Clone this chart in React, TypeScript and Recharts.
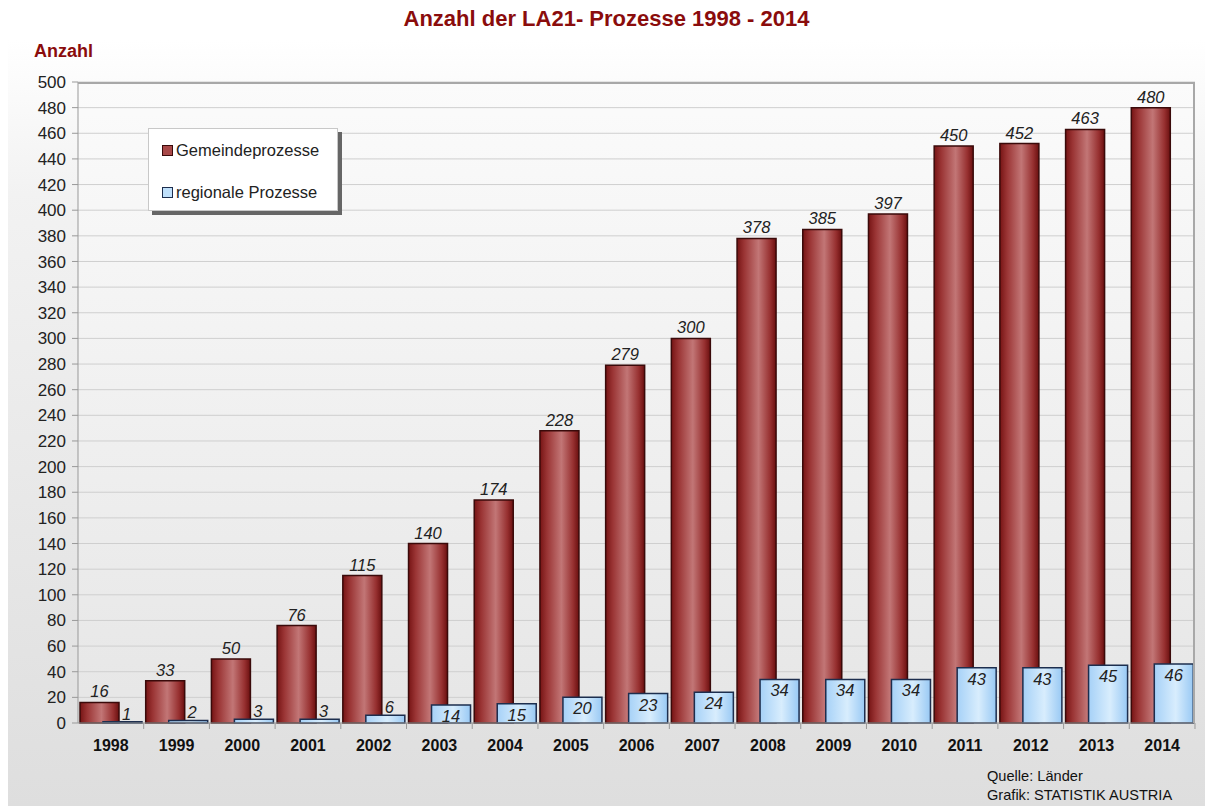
import { BarChart, Bar, XAxis, YAxis, CartesianGrid, LabelList } from "recharts";

const years = [
  "1998", "1999", "2000", "2001", "2002", "2003", "2004", "2005", "2006",
  "2007", "2008", "2009", "2010", "2011", "2012", "2013", "2014",
];
const gemeinde = [16, 33, 50, 76, 115, 140, 174, 228, 279, 300, 378, 385, 397, 450, 452, 463, 480];
const regional = [1, 2, 3, 3, 6, 14, 15, 20, 23, 24, 34, 34, 34, 43, 43, 45, 46];
const yTicks = [
  0, 20, 40, 60, 80, 100, 120, 140, 160, 180, 200, 220, 240, 260, 280, 300,
  320, 340, 360, 380, 400, 420, 440, 460, 480, 500,
];

const data = years.map((year, i) => ({ year, gemeinde: gemeinde[i], regional: regional[i] }));

const FONT = "'Liberation Sans', Arial, sans-serif";
const DARK_RED = "#8a0c0c";

const legendItems = [
  { label: "Gemeindeprozesse", fill: "#a84848", stroke: "#3a0a0a" },
  { label: "regionale Prozesse", fill: "#bfe0fb", stroke: "#1d2e4e" },
];

function LegendBox() {
  return (
    <div
      style={{
        position: "absolute",
        left: 148,
        top: 128,
        width: 190,
        height: 83,
        background: "#fff",
        border: "1px solid #c8c8c8",
        boxShadow: "4px 4px 0 #666",
        fontFamily: FONT,
        fontSize: 16.5,
        color: "#222",
        boxSizing: "border-box",
        paddingTop: 12,
      }}
    >
      {legendItems.map((it) => (
        <div key={it.label} style={{ display: "flex", alignItems: "center", height: 18, marginBottom: 24, paddingLeft: 13 }}>
          <span
            style={{
              width: 9,
              height: 9,
              background: it.fill,
              border: `1px solid ${it.stroke}`,
              marginRight: 3,
              display: "inline-block",
            }}
          />
          {it.label}
        </div>
      ))}
    </div>
  );
}

function XTick(props: any) {
  const { x, y, payload } = props;
  return (
    <g>
      <line x1={x + 32.85} x2={x + 32.85} y1={y - 8} y2={y - 2} stroke="#999" />
      <text x={x} y={y + 20} textAnchor="middle" fontFamily={FONT} fontWeight="bold" fontSize={16} fill="#111">
        {payload.value}
      </text>
    </g>
  );
}

function RegionalLabel(props: any) {
  const { x, y, width, value } = props;
  const inside = value >= 10;
  return (
    <text
      x={x + width / 2 + (inside ? 0 : 4)}
      y={inside ? y + 11 : y - 8}
      textAnchor="middle"
      dominantBaseline="central"
      fontFamily={FONT}
      fontStyle="italic"
      fontSize={16.5}
      fill="#222"
    >
      {value}
    </text>
  );
}

function GemeindeLabel(props: any) {
  const { x, y, width, value } = props;
  return (
    <text
      x={x + width / 2}
      y={y - 11}
      textAnchor="middle"
      dominantBaseline="central"
      fontFamily={FONT}
      fontStyle="italic"
      fontSize={16.5}
      fill="#222"
    >
      {value}
    </text>
  );
}

export default function App() {
  return (
    <div style={{ position: "absolute", left: 0, top: 0, width: 1213, height: 806, background: "#fff", overflow: "hidden" }}>
      <div
        style={{
          position: "absolute",
          left: 8,
          top: 40,
          width: 1197,
          height: 766,
          background: "linear-gradient(#ffffff 0%, #f2f2f2 20%, #dedede 100%)",
        }}
      />
      <div
        style={{
          position: "absolute",
          left: 0,
          top: 6,
          width: 1213,
          textAlign: "center",
          fontFamily: FONT,
          fontWeight: "bold",
          fontSize: 22,
          color: DARK_RED,
        }}
      >
        Anzahl der LA21- Prozesse 1998 - 2014
      </div>
      <div
        style={{
          position: "absolute",
          left: 34,
          top: 41,
          fontFamily: FONT,
          fontWeight: "bold",
          fontSize: 18,
          color: DARK_RED,
        }}
      >
        Anzahl
      </div>
      <div style={{ position: "absolute", left: 0, top: 0 }}>
        <BarChart
          width={1213}
          height={806}
          data={data}
          margin={{ top: 82, right: 18, left: 8, bottom: 53 }}
          barSize={39}
          barGap={-16}
        >
          <defs>
            <linearGradient id="plotBg" x1="0" y1="0" x2="0" y2="1">
              <stop offset="0%" stopColor="#fbfbfb" />
              <stop offset="100%" stopColor="#e6e6e6" />
            </linearGradient>
            <linearGradient id="redBar" x1="0" y1="0" x2="1" y2="0">
              <stop offset="0%" stopColor="#761414" />
              <stop offset="18%" stopColor="#9a3434" />
              <stop offset="55%" stopColor="#c27676" />
              <stop offset="85%" stopColor="#973030" />
              <stop offset="100%" stopColor="#6a0f0f" />
            </linearGradient>
            <linearGradient id="blueBar" x1="0" y1="0" x2="1" y2="0">
              <stop offset="0%" stopColor="#a6d1f7" />
              <stop offset="55%" stopColor="#d8edfd" />
              <stop offset="100%" stopColor="#99c9f4" />
            </linearGradient>
          </defs>
          <CartesianGrid vertical={false} stroke="#cfcfcf" fill="url(#plotBg)" />
          <XAxis
            dataKey="year"
            height={30}
            tickLine={false}
            axisLine={{ stroke: "#999" }}
            tick={<XTick />}
            interval={0}
          />
          <YAxis
            width={70}
            domain={[0, 500]}
            ticks={yTicks}
            interval={0}
            tickSize={6}
            tickMargin={6}
            axisLine={{ stroke: "#999" }}
            tickLine={{ stroke: "#999" }}
            tick={{ fontFamily: FONT, fontSize: 17, fill: "#222" }}
          />
          <Bar dataKey="gemeinde" name="Gemeindeprozesse" fill="url(#redBar)" stroke="#3a0a0a" strokeWidth={1.5} isAnimationActive={false}>
            <LabelList dataKey="gemeinde" content={<GemeindeLabel />} />
          </Bar>
          <Bar dataKey="regional" name="regionale Prozesse" fill="url(#blueBar)" stroke="#1d2e4e" strokeWidth={1.5} isAnimationActive={false}>
            <LabelList dataKey="regional" content={<RegionalLabel />} />
          </Bar>
        </BarChart>
      </div>
      <div
        style={{
          position: "absolute",
          left: 78,
          top: 82,
          width: 1117,
          height: 641,
          border: "2px solid #a8a8a8",
          borderBottom: "none",
          borderLeft: "none",
          boxSizing: "border-box",
          pointerEvents: "none",
        }}
      />
      <LegendBox />
      <div
        style={{
          position: "absolute",
          left: 987,
          top: 767,
          fontFamily: FONT,
          fontSize: 14.6,
          lineHeight: "19px",
          color: "#111",
        }}
      >
        Quelle: Länder
        <br />
        Grafik: STATISTIK AUSTRIA
      </div>
    </div>
  );
}
